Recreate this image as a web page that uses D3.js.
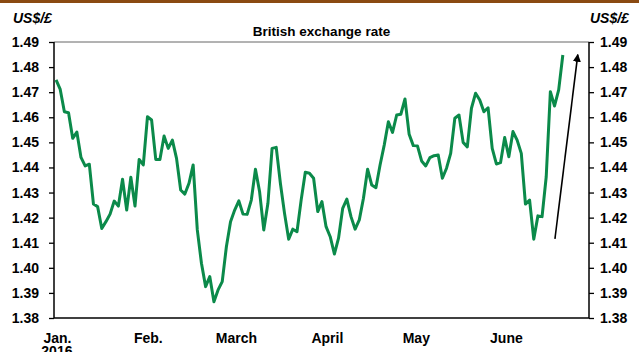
<!DOCTYPE html>
<html>
<head>
<meta charset="utf-8">
<script src="https://cdn.jsdelivr.net/npm/d3@7"></script>
<style>
  body { margin: 0; background: #fff; }
  svg { display: block; font-family: Arial, "Liberation Sans", sans-serif; }
  .axis text { font-size: 14px; font-weight: bold; fill: #000; }
  .axis line { stroke: #000; stroke-width: 1.3; }
</style>
</head>
<body>
<svg width="639" height="352"></svg>
<script>
// Daily US$/£ closes (business days), Jan 2016 - June 2016
const rates = [
  1.4749, 1.4711, 1.4622, 1.4618, 1.4516, 1.4541, 1.4440, 1.4406, 1.4413, 1.4254,
  1.4244, 1.4157, 1.4184, 1.4214, 1.4266, 1.4246, 1.4353, 1.4230, 1.4361, 1.4246,
  1.4432, 1.4410, 1.4602, 1.4589,
  1.4432, 1.4432, 1.4525, 1.4476, 1.4509, 1.4436, 1.4310, 1.4294, 1.4337, 1.4410,
  1.4151, 1.4018, 1.3925, 1.3965, 1.3865, 1.3912, 1.3945, 1.4084, 1.4184, 1.4230,
  1.4267, 1.4214, 1.4213, 1.4270, 1.4393, 1.4303, 1.4151,
  1.4257, 1.4476, 1.4480, 1.4337, 1.4217, 1.4114, 1.4154, 1.4144, 1.4270, 1.4381,
  1.4377, 1.4357, 1.4224, 1.4264, 1.4164, 1.4124, 1.4055, 1.4118, 1.4237, 1.4274,
  1.4204, 1.4154, 1.4191, 1.4277, 1.4393, 1.4330,
  1.4319, 1.4410, 1.4489, 1.4582, 1.4540, 1.4609, 1.4612, 1.4673, 1.4532, 1.4487,
  1.4486, 1.4426, 1.4406, 1.4439, 1.4447, 1.4450, 1.4357, 1.4397, 1.4456, 1.4596,
  1.4609, 1.4500, 1.4482, 1.4636, 1.4696, 1.4669, 1.4622, 1.4638,
  1.4476, 1.4414, 1.4419, 1.4519, 1.4443, 1.4543, 1.4509, 1.4456, 1.4254, 1.4270,
  1.4114, 1.4207, 1.4204, 1.4363, 1.4702, 1.4645, 1.4709, 1.4848
];

// month labels and the trading-day index where each month starts
const months = ["Jan.", "Feb.", "March", "April", "May", "June"];
const monthStart = [0.2, 22.1, 43.3, 65.2, 86.6, 108.3];
const yTicks = [1.38, 1.39, 1.40, 1.41, 1.42, 1.43, 1.44, 1.45, 1.46, 1.47, 1.48, 1.49];

// arrow annotation: [index, rate] from -> to
const arrowFrom = [120.1, 1.4115];
const arrowTo = [125.6, 1.4850];

const svg = d3.select("svg");
const margin = { top: 42, right: 50, bottom: 34, left: 54 };
const W = +svg.attr("width"), H = +svg.attr("height");
const x0 = margin.left, x1 = W - margin.right;
const y0 = margin.top, y1 = H - margin.bottom;

const x = d3.scaleLinear().domain([-0.5, 128.3]).range([x0, x1]);
const y = d3.scaleLinear().domain([1.38, 1.49]).range([y1, y0]);

// brown strip at the top
svg.append("rect").attr("x", 0).attr("y", 0).attr("width", W).attr("height", 3)
  .attr("fill", "#8a4a12");

// frame: grey top, black sides & bottom
svg.append("line").attr("x1", x0).attr("x2", x1).attr("y1", y0).attr("y2", y0)
  .attr("stroke", "#666").attr("stroke-width", 1);

const fmt = d3.format(".2f");

const left = svg.append("g").attr("class", "axis")
  .attr("transform", "translate(" + x0 + ",0)")
  .call(d3.axisLeft(y).tickValues(yTicks).tickSize(5).tickPadding(10).tickFormat(fmt));
left.select(".domain").remove();

const right = svg.append("g").attr("class", "axis")
  .attr("transform", "translate(" + x1 + ",0)")
  .call(d3.axisRight(y).tickValues(yTicks).tickSize(5).tickPadding(6).tickFormat(fmt));
right.select(".domain").remove();

const bottom = svg.append("g").attr("class", "axis")
  .attr("transform", "translate(0," + y1 + ")")
  .call(d3.axisBottom(x).tickValues(monthStart).tickSize(0).tickPadding(15)
    .tickFormat((d, i) => months[i]));
bottom.select(".domain").remove();

svg.append("text")
  .attr("x", x(monthStart[0])).attr("y", y1 + 38)
  .attr("text-anchor", "middle")
  .style("font-size", "14px").style("font-weight", "bold")
  .text("2016");

svg.append("line").attr("x1", x0).attr("x2", x0).attr("y1", y0).attr("y2", y1)
  .attr("stroke", "#000").attr("stroke-width", 1.5);
svg.append("line").attr("x1", x1).attr("x2", x1).attr("y1", y0).attr("y2", y1)
  .attr("stroke", "#000").attr("stroke-width", 1.5);
svg.append("line").attr("x1", x0).attr("x2", x1).attr("y1", y1).attr("y2", y1)
  .attr("stroke", "#000").attr("stroke-width", 1.5);

// unit labels
svg.append("text").attr("x", 13).attr("y", 23)
  .style("font-size", "14px").style("font-weight", "bold").style("font-style", "italic")
  .text("US$/£");
svg.append("text").attr("x", 590).attr("y", 23)
  .style("font-size", "14px").style("font-weight", "bold").style("font-style", "italic")
  .text("US$/£");

// title
svg.append("text").attr("x", (x0 + x1) / 2).attr("y", 36)
  .attr("text-anchor", "middle")
  .style("font-size", "13.5px").style("font-weight", "bold")
  .text("British exchange rate");

// the rate line
const line = d3.line()
  .x((d, i) => x(i))
  .y(d => y(d));

svg.append("path")
  .datum(rates)
  .attr("fill", "none")
  .attr("stroke", "#0b8a4a")
  .attr("stroke-width", 3)
  .attr("stroke-linejoin", "round")
  .attr("d", line);

// arrow
svg.append("defs").append("marker")
  .attr("id", "head").attr("viewBox", "0 0 10 10")
  .attr("refX", 9).attr("refY", 5)
  .attr("markerWidth", 5).attr("markerHeight", 5)
  .attr("orient", "auto")
  .append("path").attr("d", "M0,0L10,5L0,10z").attr("fill", "#000");

svg.append("line")
  .attr("x1", x(arrowFrom[0])).attr("y1", y(arrowFrom[1]))
  .attr("x2", x(arrowTo[0])).attr("y2", y(arrowTo[1]))
  .attr("stroke", "#000").attr("stroke-width", 1.6)
  .attr("marker-end", "url(#head)");
</script>
</body>
</html>
